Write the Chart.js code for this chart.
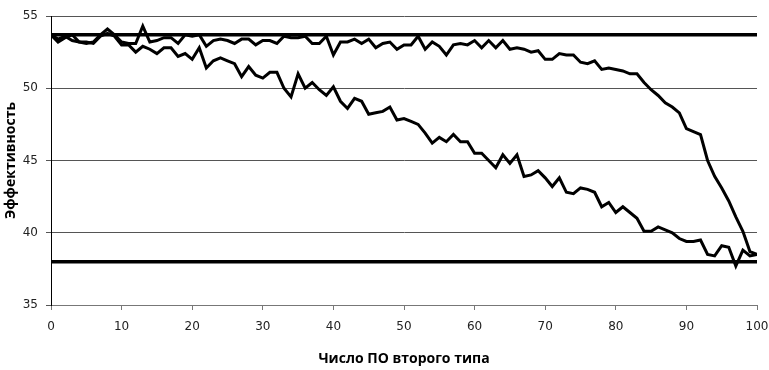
<!DOCTYPE html>
<html>
<head>
<meta charset="utf-8">
<script src="https://cdn.jsdelivr.net/npm/chart.js@4"></script>
<style>
  html, body { margin: 0; padding: 0; background: #fff; }
  #wrap { width: 769px; height: 370px; }
</style>
</head>
<body>
<div id="wrap"><canvas id="chart" width="769" height="370"></canvas></div>
<script>
// значения по оси X: число ПО второго типа
const xValues = [];
for (let i = 0; i <= 100; i++) xValues.push(i);

// кривая с постепенным спадом
const seriesGradual = [
  53.7, 53.2, 53.5, 53.7, 53.2, 53.2, 53.1, 53.6, 53.8, 53.6,
  53.0, 53.0, 52.5, 52.9, 52.7, 52.4, 52.8, 52.8, 52.2, 52.4,
  52.0, 52.8, 51.4, 51.9, 52.1, 51.9, 51.7, 50.8, 51.5, 50.9,
  50.7, 51.1, 51.1, 50.0, 49.4, 51.0, 50.0, 50.4, 49.9, 49.5,
  50.1, 49.1, 48.6, 49.3, 49.1, 48.2, 48.3, 48.4, 48.7, 47.8,
  47.9, 47.7, 47.5, 46.9, 46.2, 46.6, 46.3, 46.8, 46.3, 46.3,
  45.5, 45.5, 45.0, 44.5, 45.4, 44.8, 45.4, 43.9, 44.0, 44.3,
  43.8, 43.2, 43.8, 42.8, 42.7, 43.1, 43.0, 42.8, 41.8, 42.1,
  41.4, 41.8, 41.4, 41.0, 40.1, 40.1, 40.4, 40.2, 40.0, 39.6,
  39.4, 39.4, 39.5, 38.5, 38.4, 39.1, 39.0, 37.7, 38.8, 38.4,
  38.5
];

// кривая с резким спадом в конце
const seriesLateDrop = [
  53.7, 53.4, 53.6, 53.3, 53.2, 53.1, 53.2, 53.7, 54.1, 53.7,
  53.2, 53.1, 53.1, 54.3, 53.2, 53.3, 53.5, 53.5, 53.1, 53.7,
  53.6, 53.7, 52.9, 53.3, 53.4, 53.3, 53.1, 53.4, 53.4, 53.0,
  53.3, 53.3, 53.1, 53.6, 53.5, 53.5, 53.6, 53.1, 53.1, 53.6,
  52.3, 53.2, 53.2, 53.4, 53.1, 53.4, 52.8, 53.1, 53.2, 52.7,
  53.0, 53.0, 53.6, 52.7, 53.2, 52.9, 52.3, 53.0, 53.1, 53.0,
  53.3, 52.8, 53.3, 52.8, 53.3, 52.7, 52.8, 52.7, 52.5, 52.6,
  52.0, 52.0, 52.4, 52.3, 52.3, 51.8, 51.7, 51.9, 51.3, 51.4,
  51.3, 51.2, 51.0, 51.0, 50.4, 49.9, 49.5, 49.0, 48.7, 48.3,
  47.2, 47.0, 46.8, 45.0, 43.9, 43.1, 42.2, 41.1, 40.1, 38.7,
  38.5
];

// горизонтальные уровни
const upperLevel = 53.7;
const lowerLevel = 38.0;
const levelX = [0, 100];

const toPoints = (arr) => arr.map((v, i) => ({ x: xValues[i], y: v }));
const levelPoints = (v) => levelX.map(x => ({ x: x, y: v }));

const lineStyle = {
  borderColor: '#000',
  borderWidth: 3,
  pointRadius: 0,
  tension: 0,
  fill: false
};

new Chart(document.getElementById('chart'), {
  type: 'line',
  data: {
    datasets: [
      { ...lineStyle, data: levelPoints(upperLevel), borderWidth: 3.5 },
      { ...lineStyle, data: levelPoints(lowerLevel), borderWidth: 3.5 },
      { ...lineStyle, data: toPoints(seriesGradual) },
      { ...lineStyle, data: toPoints(seriesLateDrop) }
    ]
  },
  options: {
    responsive: false,
    animation: false,
    layout: { padding: { top: 16, right: 0, bottom: 0, left: 0 } },
    plugins: {
      legend: { display: false },
      tooltip: { enabled: false }
    },
    scales: {
      x: {
        type: 'linear',
        min: 0,
        max: 100,
        afterFit: (s) => {
          s.height = 65;
          s.paddingLeft = 0;
          s.paddingRight = 12; // подпись "100" у правого края
        },
        ticks: {
          stepSize: 10,
          color: '#222',
          padding: 10,
          font: { family: 'DejaVu Sans', size: 12 }
        },
        grid: {
          drawOnChartArea: false,
          drawTicks: true,
          tickLength: 5,
          color: '#777'
        },
        border: { color: '#777', width: 1 },
        title: {
          display: true,
          text: 'Число ПО второго типа',
          color: '#000',
          font: { family: 'Open Sans', size: 14, weight: 'bold' },
          padding: { top: 4, bottom: 3 }
        }
      },
      y: {
        type: 'linear',
        min: 35,
        max: 55,
        afterFit: (s) => { s.width = 51; },
        ticks: {
          stepSize: 5,
          color: '#222',
          padding: 8,
          font: { family: 'DejaVu Sans', size: 12 }
        },
        grid: {
          display: true,
          drawOnChartArea: true,
          color: '#555',
          lineWidth: 1,
          tickLength: 5
        },
        border: { color: '#000', width: 1 },
        title: {
          display: true,
          text: 'Эффективность',
          color: '#000',
          font: { family: 'Open Sans', size: 14, weight: 'bold' },
          padding: { top: 3, bottom: 4 }
        }
      }
    }
  }
});
</script>
</body>
</html>
